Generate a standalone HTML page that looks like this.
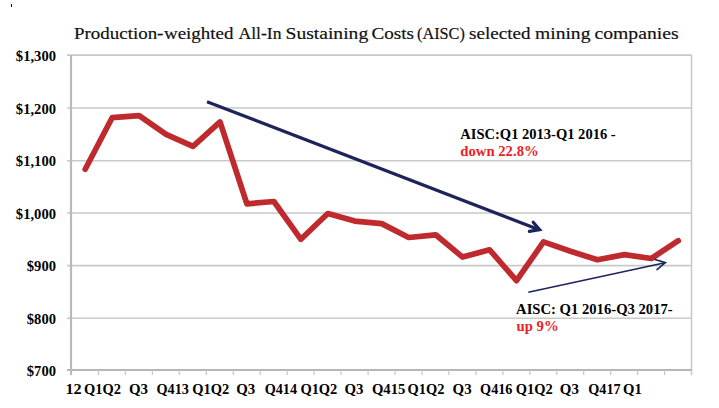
<!DOCTYPE html>
<html><head><meta charset="utf-8">
<style>
html,body{margin:0;padding:0;background:#fff;}
body{width:719px;height:408px;overflow:hidden;position:relative;}
svg{position:absolute;left:0;top:0;}
.yl{font-family:"Liberation Serif",serif;font-weight:bold;font-size:14.6px;fill:#000;}
.xl{font-family:"Liberation Serif",serif;font-weight:bold;font-size:15px;fill:#000;}
.ttl{font-family:"Liberation Serif",serif;font-size:17.6px;fill:#111;stroke:#111;stroke-width:0.2px;}
.an{font-family:"Liberation Serif",serif;font-weight:bold;font-size:14px;fill:#000;}
.red{fill:#ee1c25;}
</style></head>
<body>
<svg width="719" height="408" viewBox="0 0 719 408">
<rect x="11" y="4" width="1" height="3" fill="#000"/>
<text x="74.0" y="38.7" class="ttl" textLength="89.43" lengthAdjust="spacingAndGlyphs">Production-</text>
<text x="164.0" y="38.7" class="ttl" textLength="69.46" lengthAdjust="spacingAndGlyphs">weighted</text>
<text x="238.5" y="38.7" class="ttl" textLength="43.0" lengthAdjust="spacingAndGlyphs">All-In</text>
<text x="285.5" y="38.7" class="ttl" textLength="82.68" lengthAdjust="spacingAndGlyphs">Sustaining</text>
<text x="371.5" y="38.7" class="ttl" textLength="42.54" lengthAdjust="spacingAndGlyphs">Costs</text>
<text x="417.0" y="38.7" class="ttl" textLength="47.82" lengthAdjust="spacingAndGlyphs">(AISC)</text>
<text x="469.0" y="38.7" class="ttl" textLength="61.44" lengthAdjust="spacingAndGlyphs">selected</text>
<text x="535.0" y="38.7" class="ttl" textLength="55.41" lengthAdjust="spacingAndGlyphs">mining</text>
<text x="594.5" y="38.7" class="ttl" textLength="84.1" lengthAdjust="spacingAndGlyphs">companies</text>
<line x1="67" y1="55.1" x2="691.5" y2="55.1" stroke="#c9c9c9" stroke-width="1.6"/>
<line x1="67" y1="108.0" x2="691.5" y2="108.0" stroke="#c9c9c9" stroke-width="1.6"/>
<line x1="67" y1="160.7" x2="691.5" y2="160.7" stroke="#c9c9c9" stroke-width="1.6"/>
<line x1="67" y1="213.0" x2="691.5" y2="213.0" stroke="#c9c9c9" stroke-width="1.6"/>
<line x1="67" y1="265.6" x2="691.5" y2="265.6" stroke="#c9c9c9" stroke-width="1.6"/>
<line x1="67" y1="318.3" x2="691.5" y2="318.3" stroke="#c9c9c9" stroke-width="1.6"/>
<line x1="691.5" y1="55" x2="691.5" y2="375" stroke="#cacaca" stroke-width="1.6"/>
<line x1="67" y1="370" x2="692" y2="370" stroke="#b6b6b6" stroke-width="2.2"/>
<line x1="71" y1="55" x2="71" y2="375" stroke="#b9b9b9" stroke-width="2.2"/>
<line x1="98.5" y1="370" x2="98.5" y2="375" stroke="#c6c6c6" stroke-width="1.2"/>
<line x1="125.4" y1="370" x2="125.4" y2="375" stroke="#c6c6c6" stroke-width="1.2"/>
<line x1="152.4" y1="370" x2="152.4" y2="375" stroke="#c6c6c6" stroke-width="1.2"/>
<line x1="179.3" y1="370" x2="179.3" y2="375" stroke="#c6c6c6" stroke-width="1.2"/>
<line x1="206.3" y1="370" x2="206.3" y2="375" stroke="#c6c6c6" stroke-width="1.2"/>
<line x1="233.3" y1="370" x2="233.3" y2="375" stroke="#c6c6c6" stroke-width="1.2"/>
<line x1="260.2" y1="370" x2="260.2" y2="375" stroke="#c6c6c6" stroke-width="1.2"/>
<line x1="287.2" y1="370" x2="287.2" y2="375" stroke="#c6c6c6" stroke-width="1.2"/>
<line x1="314.1" y1="370" x2="314.1" y2="375" stroke="#c6c6c6" stroke-width="1.2"/>
<line x1="341.1" y1="370" x2="341.1" y2="375" stroke="#c6c6c6" stroke-width="1.2"/>
<line x1="368.1" y1="370" x2="368.1" y2="375" stroke="#c6c6c6" stroke-width="1.2"/>
<line x1="395.0" y1="370" x2="395.0" y2="375" stroke="#c6c6c6" stroke-width="1.2"/>
<line x1="422.0" y1="370" x2="422.0" y2="375" stroke="#c6c6c6" stroke-width="1.2"/>
<line x1="448.9" y1="370" x2="448.9" y2="375" stroke="#c6c6c6" stroke-width="1.2"/>
<line x1="475.9" y1="370" x2="475.9" y2="375" stroke="#c6c6c6" stroke-width="1.2"/>
<line x1="502.9" y1="370" x2="502.9" y2="375" stroke="#c6c6c6" stroke-width="1.2"/>
<line x1="529.8" y1="370" x2="529.8" y2="375" stroke="#c6c6c6" stroke-width="1.2"/>
<line x1="556.8" y1="370" x2="556.8" y2="375" stroke="#c6c6c6" stroke-width="1.2"/>
<line x1="583.7" y1="370" x2="583.7" y2="375" stroke="#c6c6c6" stroke-width="1.2"/>
<line x1="610.7" y1="370" x2="610.7" y2="375" stroke="#c6c6c6" stroke-width="1.2"/>
<line x1="637.7" y1="370" x2="637.7" y2="375" stroke="#c6c6c6" stroke-width="1.2"/>
<line x1="664.6" y1="370" x2="664.6" y2="375" stroke="#c6c6c6" stroke-width="1.2"/>
<text x="56" y="61.2" text-anchor="end" class="yl">$1,300</text>
<text x="56" y="113.7" text-anchor="end" class="yl">$1,200</text>
<text x="56" y="166.2" text-anchor="end" class="yl">$1,100</text>
<text x="56" y="218.7" text-anchor="end" class="yl">$1,000</text>
<text x="56" y="271.2" text-anchor="end" class="yl">$900</text>
<text x="56" y="323.7" text-anchor="end" class="yl">$800</text>
<text x="56" y="376.2" text-anchor="end" class="yl">$700</text>
<text x="65.5" y="393.7" class="xl" textLength="16.15" lengthAdjust="spacingAndGlyphs">12</text>
<text x="84.0" y="393.7" class="xl" textLength="36.89" lengthAdjust="spacingAndGlyphs">Q1Q2</text>
<text x="129.0" y="393.7" class="xl" textLength="19.04" lengthAdjust="spacingAndGlyphs">Q3</text>
<text x="156.5" y="393.7" class="xl" textLength="32.32" lengthAdjust="spacingAndGlyphs">Q413</text>
<text x="192.2" y="393.7" class="xl" textLength="36.95" lengthAdjust="spacingAndGlyphs">Q1Q2</text>
<text x="236.2" y="393.7" class="xl" textLength="18.98" lengthAdjust="spacingAndGlyphs">Q3</text>
<text x="264.7" y="393.7" class="xl" textLength="32.32" lengthAdjust="spacingAndGlyphs">Q414</text>
<text x="300.4" y="393.7" class="xl" textLength="36.95" lengthAdjust="spacingAndGlyphs">Q1Q2</text>
<text x="344.4" y="393.7" class="xl" textLength="18.98" lengthAdjust="spacingAndGlyphs">Q3</text>
<text x="371.9" y="393.7" class="xl" textLength="33.42" lengthAdjust="spacingAndGlyphs">Q415</text>
<text x="407.6" y="393.7" class="xl" textLength="36.89" lengthAdjust="spacingAndGlyphs">Q1Q2</text>
<text x="452.6" y="393.7" class="xl" textLength="18.98" lengthAdjust="spacingAndGlyphs">Q3</text>
<text x="480.1" y="393.7" class="xl" textLength="32.32" lengthAdjust="spacingAndGlyphs">Q416</text>
<text x="515.8" y="393.7" class="xl" textLength="36.92" lengthAdjust="spacingAndGlyphs">Q1Q2</text>
<text x="559.8" y="393.7" class="xl" textLength="19.04" lengthAdjust="spacingAndGlyphs">Q3</text>
<text x="588.3" y="393.7" class="xl" textLength="32.32" lengthAdjust="spacingAndGlyphs">Q417</text>
<text x="623.0" y="393.7" class="xl" textLength="18.77" lengthAdjust="spacingAndGlyphs">Q1</text>
<polyline points="85.2,169.3 112.1,117.7 139.1,115.6 166.1,134.3 193.0,146.4 220.0,121.9 246.9,203.8 273.9,201.5 300.9,239.3 327.8,213.5 354.8,221.1 381.7,223.6 408.7,237.5 435.7,234.8 462.6,257.1 489.6,249.8 516.5,280.7 543.5,241.9 570.5,251.3 597.4,259.8 624.4,254.6 651.3,258.5 678.3,240.7" fill="none" stroke="#be2a2e" stroke-width="5.7" stroke-linejoin="round" stroke-linecap="round"/>
<line x1="207" y1="101.7" x2="538" y2="229.3" stroke="#1c2459" stroke-width="3.2"/>
<polyline points="533.2,222.2 539.6,229.6 529.4,231.4" fill="none" stroke="#1c2459" stroke-width="3.2" stroke-linejoin="miter" stroke-linecap="round"/>
<line x1="528.3" y1="292.2" x2="665" y2="262.8" stroke="#1c2459" stroke-width="1.6"/>
<polyline points="655.0,259.6 665.4,262.7 657.0,269.6" fill="none" stroke="#1c2459" stroke-width="1.6" stroke-linecap="round"/>
<text x="460.3" y="138.8" class="an" textLength="155.36" lengthAdjust="spacingAndGlyphs">AISC:Q1 2013-Q1 2016 -</text>
<text x="460.3" y="155.9" class="an red" textLength="78.38" lengthAdjust="spacingAndGlyphs">down 22.8%</text>
<text x="516.1" y="313.9" class="an" textLength="156.58" lengthAdjust="spacingAndGlyphs">AISC: Q1 2016-Q3 2017-</text>
<text x="516.5" y="330.7" class="an red" textLength="42.2" lengthAdjust="spacingAndGlyphs">up 9%</text>
</svg>
</body></html>
